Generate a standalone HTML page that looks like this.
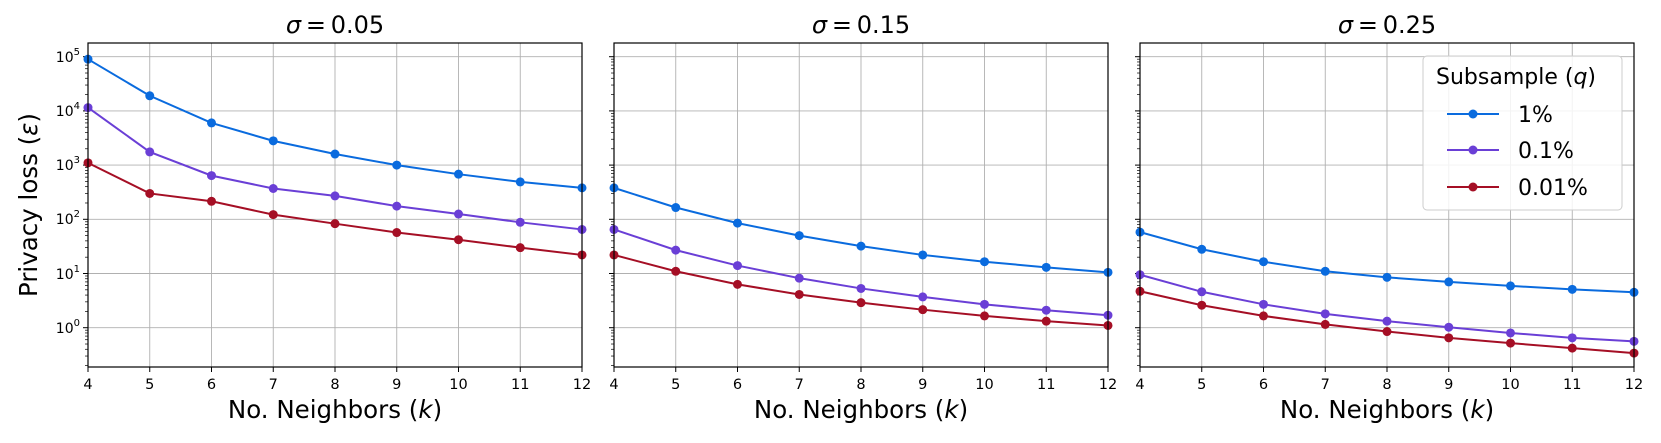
<!DOCTYPE html>
<html><head><meta charset="utf-8"><style>body{margin:0;background:#fff}svg{display:block}</style></head>
<body>
<svg id="s" width="1661" height="443" xmlns="http://www.w3.org/2000/svg" font-family="DejaVu Sans, Liberation Sans, sans-serif">
<text x="335" y="33" font-size="24" text-anchor="middle"><tspan font-style="italic">σ</tspan>&#8201;=&#8201;0.05</text>
<text x="861" y="33" font-size="24" text-anchor="middle"><tspan font-style="italic">σ</tspan>&#8201;=&#8201;0.15</text>
<text x="1387" y="33" font-size="24" text-anchor="middle"><tspan font-style="italic">σ</tspan>&#8201;=&#8201;0.25</text>
<text x="335" y="418" font-size="24.5" text-anchor="middle">No. Neighbors (<tspan font-style="italic">k</tspan>)</text>
<text x="861" y="418" font-size="24.5" text-anchor="middle">No. Neighbors (<tspan font-style="italic">k</tspan>)</text>
<text x="1387" y="418" font-size="24.5" text-anchor="middle">No. Neighbors (<tspan font-style="italic">k</tspan>)</text>
<text transform="translate(37,205) rotate(-90)" font-size="24.5" text-anchor="middle">Privacy loss (<tspan font-style="italic">ε</tspan>)</text>
<g font-size="14" text-anchor="end">
<text x="80" y="62">10<tspan dy="-7" font-size="10">5</tspan></text>
<text x="80" y="116">10<tspan dy="-7" font-size="10">4</tspan></text>
<text x="80" y="170">10<tspan dy="-7" font-size="10">3</tspan></text>
<text x="80" y="224">10<tspan dy="-7" font-size="10">2</tspan></text>
<text x="80" y="279">10<tspan dy="-7" font-size="10">1</tspan></text>
<text x="80" y="333">10<tspan dy="-7" font-size="10">0</tspan></text>
</g>
<g id="g"></g>
<g id="leg">
<rect x="1423" y="56" width="199" height="154" rx="4" fill="#fff" fill-opacity="0.85" stroke="#ccc"/>
<text x="1436" y="84" font-size="22">Subsample (<tspan font-style="italic">q</tspan>)</text>
<line x1="1447" y1="114" x2="1499" y2="114" stroke="#0a6bde" stroke-width="2"/><circle cx="1473" cy="114" r="4.5" fill="#0a6bde"/>
<line x1="1447" y1="150" x2="1499" y2="150" stroke="#6a3fd6" stroke-width="2"/><circle cx="1473" cy="150" r="4.5" fill="#6a3fd6"/>
<line x1="1447" y1="187" x2="1499" y2="187" stroke="#a50f25" stroke-width="2"/><circle cx="1473" cy="187" r="4.5" fill="#a50f25"/>
<text x="1518" y="122" font-size="22">1%</text>
<text x="1518" y="158" font-size="22">0.1%</text>
<text x="1518" y="195" font-size="22">0.01%</text>
</g>
</svg>
<script>
var g=document.getElementById('g'),h='';
var L=[88,614,1140],W=494,T=43,B=367;
function X(p,k){return L[p]+(k-4)*W/8}
function Y(v){return 327.7-Math.log10(v)*54.2}
var D=[[[9e4,1.9e4,6e3,2.8e3,1.6e3,1e3,680,490,380],[1.15e4,1.75e3,640,370,270,175,125,88,65],[1.1e3,300,215,122,83,57,42,30,22]],
[[380,165,85,50,32,22,16.5,13,10.5],[65,27,14,8.2,5.3,3.7,2.7,2.1,1.7],[22,11,6.3,4.1,2.9,2.15,1.65,1.32,1.1]],
[[58,28,16.5,11,8.5,7,5.9,5.1,4.5],[9.5,4.6,2.7,1.8,1.32,1.02,0.8,0.65,0.56],[4.7,2.6,1.65,1.15,0.85,0.65,0.52,0.42,0.34]]];
var C=['#0a6bde','#6a3fd6','#a50f25'];
for(var p=0;p<3;p++){
 var l=L[p],r=l+W;
 for(var k=4;k<=12;k++){var x=X(p,k);h+='<line x1="'+x+'" y1="'+T+'" x2="'+x+'" y2="'+B+'" stroke="#b0b0b0" stroke-width="0.9"/>';
  h+='<line x1="'+x+'" y1="'+B+'" x2="'+x+'" y2="'+(B+5)+'" stroke="#000"/>';
  h+='<text x="'+x+'" y="'+(B+22)+'" font-size="14.5" text-anchor="middle">'+k+'</text>';}
 for(var e=0;e<=5;e++){var y=Y(Math.pow(10,e));h+='<line x1="'+l+'" y1="'+y+'" x2="'+r+'" y2="'+y+'" stroke="#b0b0b0" stroke-width="0.9"/>';
  h+='<line x1="'+(l-5)+'" y1="'+y+'" x2="'+l+'" y2="'+y+'" stroke="#000"/>';}
 for(var e=-1;e<=5;e++)for(var m=2;m<=9;m++){var y=Y(m*Math.pow(10,e));if(y<T||y>B)continue;
  h+='<line x1="'+(l-3)+'" y1="'+y+'" x2="'+l+'" y2="'+y+'" stroke="#000" stroke-width="0.7"/>';}
 for(var s=0;s<3;s++){var pts=D[p][s].map(function(v,i){return X(p,i+4)+','+Y(v)});
  h+='<polyline points="'+pts.join(' ')+'" fill="none" stroke="'+C[s]+'" stroke-width="2"/>';
  D[p][s].forEach(function(v,i){h+='<circle cx="'+X(p,i+4)+'" cy="'+Y(v)+'" r="4.5" fill="'+C[s]+'"/>'});}
 h+='<rect x="'+l+'" y="'+T+'" width="'+W+'" height="'+(B-T)+'" fill="none" stroke="#000" stroke-width="1.2"/>';
}
g.innerHTML=h;
var leg=document.getElementById('leg');leg.parentNode.appendChild(leg);
</script>
</body></html>
